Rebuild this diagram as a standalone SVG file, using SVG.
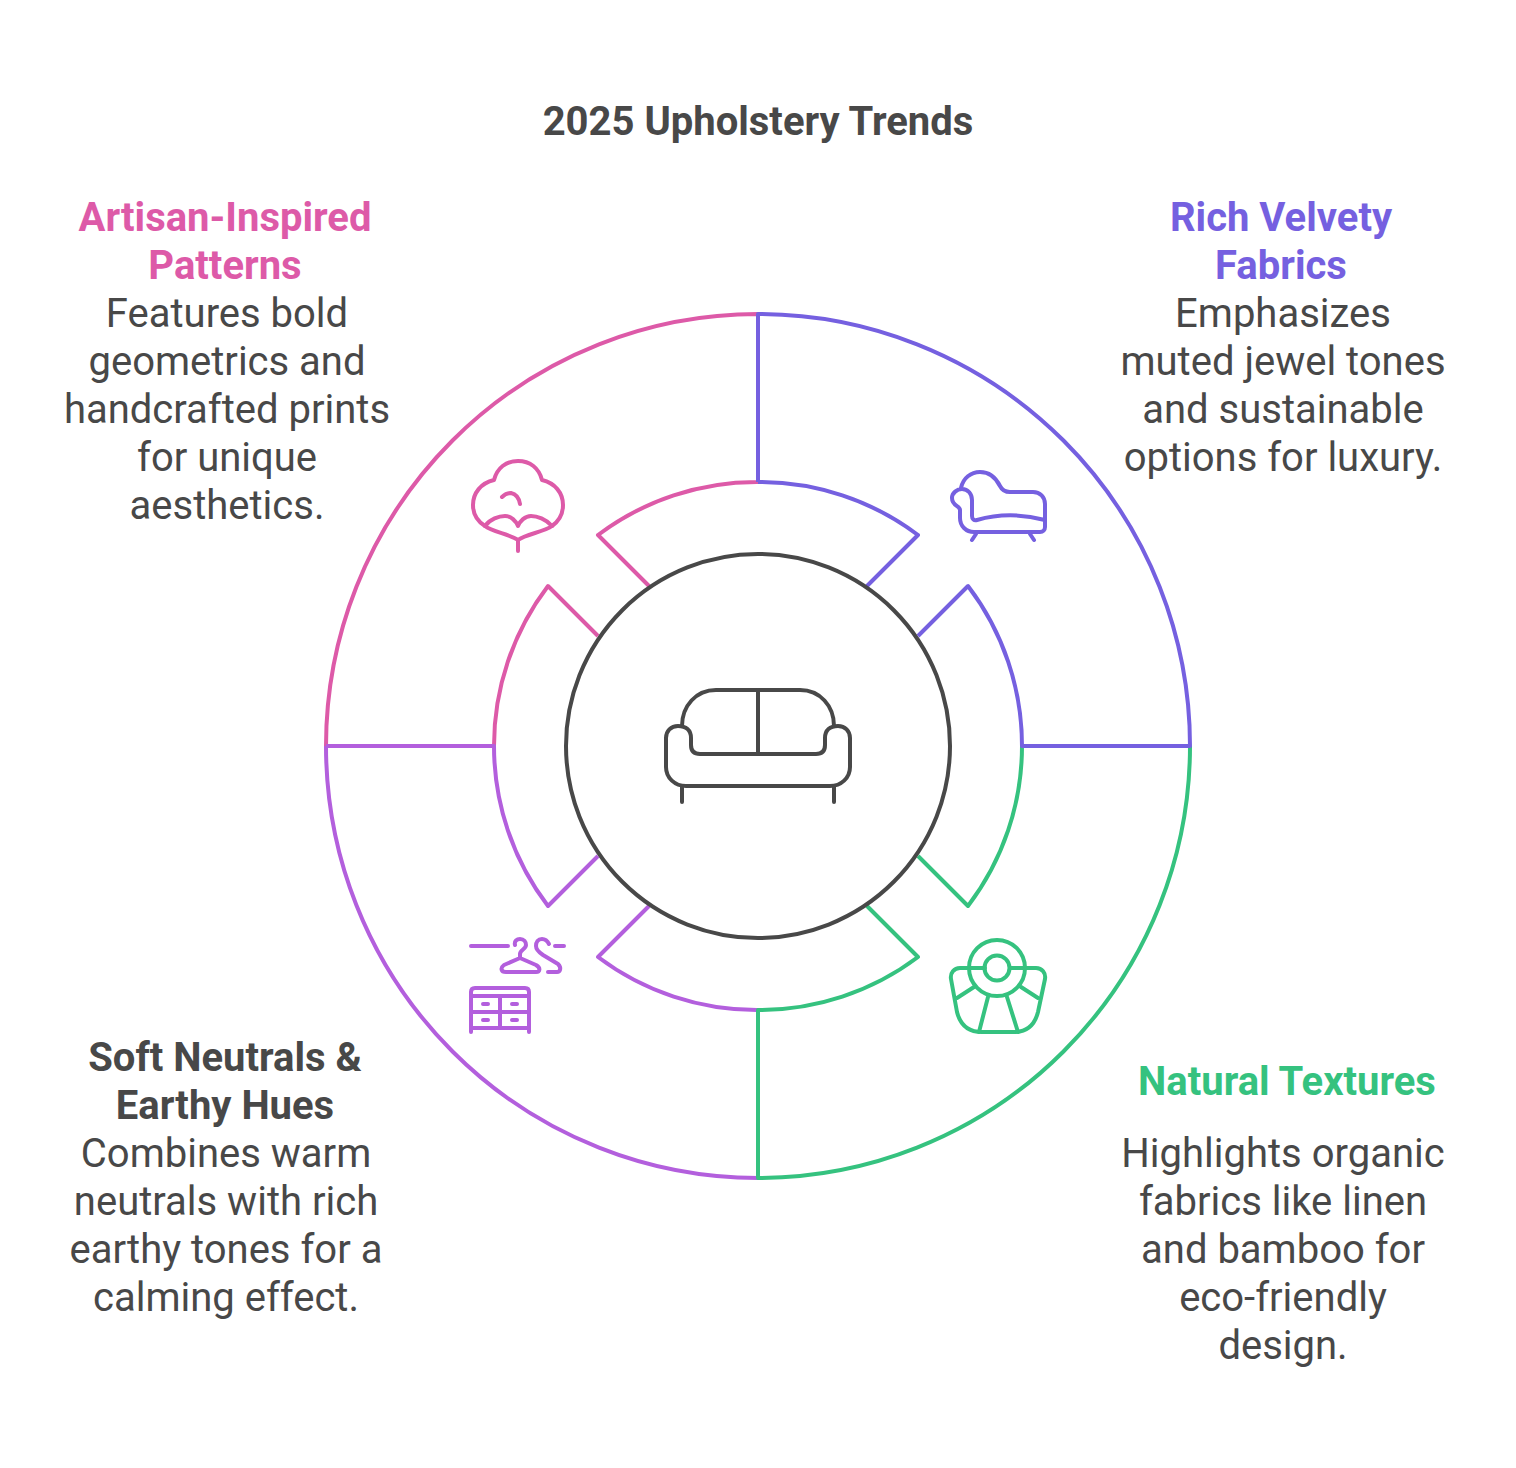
<svg xmlns="http://www.w3.org/2000/svg" width="1516" height="1468" viewBox="0 0 1516 1468">
<style>
text{font-family:Roboto,"Liberation Sans",sans-serif;font-size:40px;text-anchor:middle;fill:#484848}
.t{font-weight:700}
.seg{fill:none;stroke-width:4;stroke-linejoin:round}
.ic{fill:none;stroke-width:4;stroke-linecap:round;stroke-linejoin:round}
.pink{stroke:#dd5aa8}.orchid{stroke:#b35fdd}.green{stroke:#35c27f}.violet{stroke:#7560e0}.dark{stroke:#484848}
</style>
<rect width="1516" height="1468" fill="#fff"/>
<g id="connectors">
<path class="seg pink" d="M758 314A432 432 0 0 0 326 746H494A264 264 0 0 1 548 586L598 636M649 586L598 535A264 264 0 0 1 758 482V314"/>
<path class="seg orchid" d="M326 746A432 432 0 0 0 758 1178V1010A264 264 0 0 1 598 957L649 906M598 856L548 906A264 264 0 0 1 494 746H326"/>
<path class="seg green" d="M1190 746A432 432 0 0 1 758 1178V1010A264 264 0 0 0 918 957L867 906M918 856L968 906A264 264 0 0 0 1022 746H1190"/>
<path class="seg violet" d="M758 482V314A432 432 0 0 1 1190 746H1022A264 264 0 0 0 968 586L918 636M867 586L918 535A264 264 0 0 0 758 482"/>
</g>
<g id="center">
<circle cx="758" cy="746" r="192" fill="#fff" stroke="#484848" stroke-width="4"/>
<g class="ic dark">
<path d="M682 726C682 706 696 690 716 690H800C820 690 834 706 834 726"/>
<path d="M758 754H700Q691 754 691 745V738C691 730 686 726 678 726C671 726 666 731 666 738V767C666 778 675 786 686 786H830C841 786 850 778 850 767V738C850 731 845 726 838 726C830 726 825 730 825 738V745Q825 754 816 754H758"/>
<path d="M758 690V754M682 786V802M834 786V802"/>
</g>
</g>
<g id="title"><text class="t" x="758" y="135">2025 Upholstery Trends</text></g>
<g id="artisan">
<text class="t" style="fill:#dd5aa8" x="225" y="231">Artisan-Inspired</text>
<text class="t" style="fill:#dd5aa8" x="225" y="279">Patterns</text>
<text x="227" y="327">Features bold</text>
<text x="227" y="375">geometrics and</text>
<text x="227" y="423">handcrafted prints</text>
<text x="227" y="471">for unique</text>
<text x="227" y="519">aesthetics.</text>
<g class="ic pink">
<path d="M494 480C497 468 506 461 518 461C530 461 539 468 542 480C555 483 563 493 563 505C563 514 559 521 552 526C544 532 526 534 518 540C510 534 492 532 485 526C477 521 473 514 473 505C473 493 481 483 494 480Z"/>
<path d="M485 526C490 519 499 516 505 516C511 516 516 521 518 526C520 521 525 516 531 516C537 516 546 519 552 526"/>
<path d="M502 497C505 494 508 493 511 493C516 494 519 498 520 504M518 540V551"/>
</g>
</g>
<g id="velvety">
<text class="t" style="fill:#7560e0" x="1281" y="231">Rich Velvety</text>
<text class="t" style="fill:#7560e0" x="1281" y="279">Fabrics</text>
<text x="1283" y="327">Emphasizes</text>
<text x="1283" y="375">muted jewel tones</text>
<text x="1283" y="423">and sustainable</text>
<text x="1283" y="471">options for luxury.</text>
<g class="ic violet">
<path d="M961 488C963 478 971 472 980 472C990 472 996 478 1000 486C1002 490 1005 492 1010 492H1033C1040 492 1045 497 1045 504V527C1045 530 1043 532 1040 532H974C966 532 960 526 960 518V510C960 506 952 506 952 498C952 493 957 489 962 489C968 489 972 494 972 500V516C972 519 974 521 977 520C998 514 1022 514 1045 520"/>
<path d="M976 534L972 540M1030 534L1034 540"/>
</g>
</g>
<g id="natural">
<text class="t" style="fill:#35c27f" x="1287" y="1095">Natural Textures</text>
<text x="1283" y="1167">Highlights organic</text>
<text x="1283" y="1215">fabrics like linen</text>
<text x="1283" y="1263">and bamboo for</text>
<text x="1283" y="1311">eco-friendly</text>
<text x="1283" y="1359">design.</text>
<g class="ic green">
<circle cx="997" cy="968" r="28"/>
<circle cx="997" cy="968" r="12.5"/>
<path d="M985 968H960C954 968 950 973 951 979L957 1012C960 1024 968 1032 982 1032H1014C1028 1032 1035 1024 1038 1012L1045 979C1046 973 1042 968 1036 968H1010"/>
<path d="M974 987L957 998M1021 987L1038 998M988 997L979 1032M1007 997L1018 1032"/>
</g>
</g>
<g id="neutrals">
<text class="t" x="225" y="1071">Soft Neutrals &amp;</text>
<text class="t" x="225" y="1119">Earthy Hues</text>
<text x="226" y="1167">Combines warm</text>
<text x="226" y="1215">neutrals with rich</text>
<text x="226" y="1263">earthy tones for a</text>
<text x="226" y="1311">calming effect.</text>
<g class="ic orchid">
<path d="M471 946H508M555 946H564"/>
<path d="M515 945C514 941 517 939 520 939C524 939 526 942 526 945C526 949 520 950 520 954V958L536 965C541 968 540 972 536 972H506C501 972 500 968 504 965L520 958"/>
<path d="M549 944C547 940 544 939 542 939C538 939 536 942 536 946C536 950 540 953 543 955L558 964C562 968 560 972 557 972H548"/>
<path d="M471 1032V992Q471 988 475 988H525Q529 988 529 992V1032M471 996H529M471 1012H529M471 1028H529M500 996V1028"/>
<path d="M483 1004H488M512 1004H517M483 1020H488M512 1020H517"/>
</g>
</g>
</svg>
